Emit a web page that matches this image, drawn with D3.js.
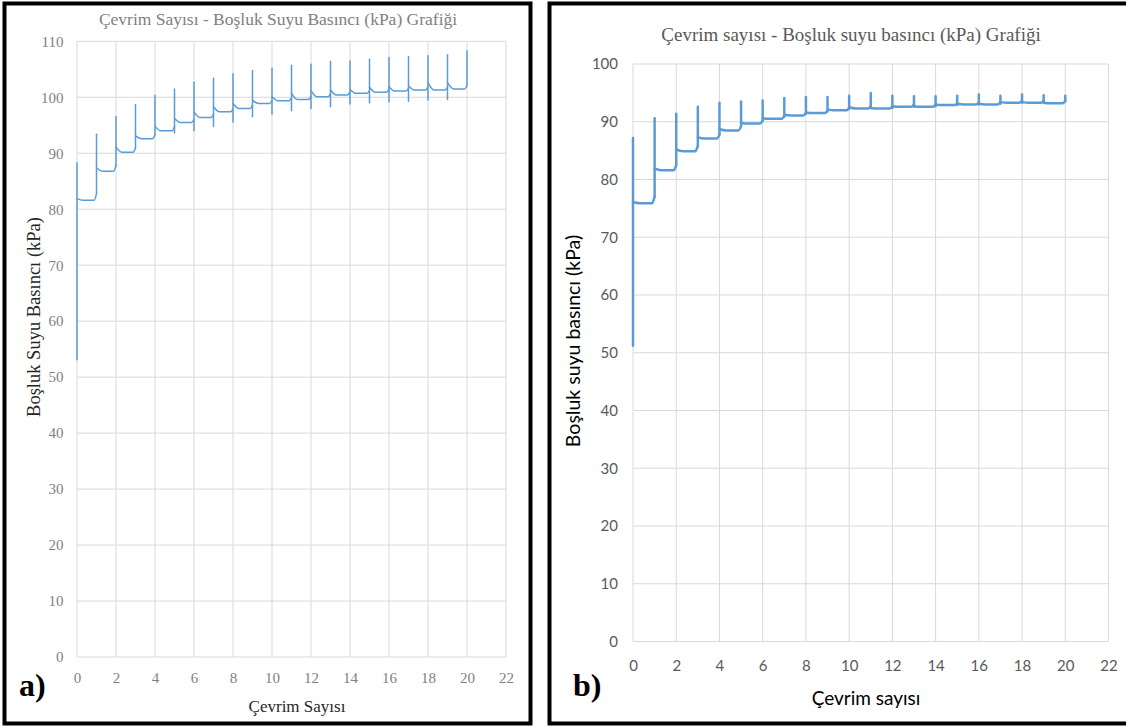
<!DOCTYPE html>
<html>
<head>
<meta charset="utf-8">
<script src="https://cdn.jsdelivr.net/npm/d3@7"></script>
<style>
  body { margin: 0; background: #fff; }
  svg { display: block; }
</style>
</head>
<body>
<svg id="chart" width="1126" height="726"></svg>
<script>
// ---- data ----
const cycleTicks = [0, 2, 4, 6, 8, 10, 12, 14, 16, 18, 20, 22];
const aKpaTicks = [0, 10, 20, 30, 40, 50, 60, 70, 80, 90, 100, 110];
const bKpaTicks = [0, 10, 20, 30, 40, 50, 60, 70, 80, 90, 100];

// a) vertical spike at every cycle 0..20: top and bottom (kPa)
const aPeak = [88.3, 93.4, 96.5, 98.7, 100.3, 101.5, 102.7, 103.4, 104.2, 104.8, 105.2,
  105.7, 105.9, 106.4, 106.5, 106.8, 107.1, 107.3, 107.4, 107.6, 108.3];
const aTrough = [53.1, 82.8, 87.8, 91.0, 93.3, 93.6, 94.0, 94.8, 95.6, 96.5, 97.0,
  97.6, 98.0, 98.3, 98.8, 99.0, 99.2, 99.3, 99.5, 99.6, 102.1];
// a) inside each cycle 0..19: value after spike, settled value, value before next spike
const aStart = [81.9, 87.4, 91.1, 93.1, 94.8, 96.2, 97.4, 98.3, 98.9, 99.5,
  100.1, 100.7, 101.2, 101.3, 101.4, 101.8, 101.9, 102.0, 102.6, 102.6];
const aBase = [81.6, 86.8, 90.2, 92.6, 94.0, 95.5, 96.4, 97.4, 98.0, 98.9,
  99.4, 99.6, 100.1, 100.4, 100.7, 100.9, 101.1, 101.3, 101.3, 101.5];
const aRise = [82.8, 87.8, 91.0, 93.3, 94.8, 96.0, 97.0, 97.9, 98.6, 99.4,
  99.9, 100.2, 100.6, 100.9, 101.2, 101.4, 101.6, 101.8, 101.8, 102.1];

// b) same readings for the second test
const bPeak = [87.2, 90.6, 91.4, 92.6, 93.3, 93.5, 93.7, 94.1, 94.3, 94.3, 94.5,
  95.0, 94.5, 94.4, 94.4, 94.5, 94.7, 94.5, 94.7, 94.6, 94.5];
const bTrough = [51.2, 77.0, 82.5, 85.8, 87.8, 89.2, 90.2, 90.9, 91.4, 91.8, 92.2,
  92.4, 92.4, 92.6, 92.7, 92.9, 93.0, 93.1, 93.3, 93.3, 93.6];
const bStart = [76.1, 81.9, 85.2, 87.3, 88.7, 89.8, 90.6, 91.2, 91.6, 92.1,
  92.5, 92.4, 92.7, 92.7, 93.0, 93.1, 93.1, 93.4, 93.4, 93.3];
const bBase = [75.9, 81.6, 84.9, 87.1, 88.5, 89.7, 90.5, 91.1, 91.5, 92.0,
  92.3, 92.3, 92.6, 92.6, 92.9, 93.0, 93.0, 93.3, 93.3, 93.2];
const bRise = [77.0, 82.5, 85.8, 87.8, 89.2, 90.2, 91.0, 91.5, 91.9, 92.4,
  92.7, 92.7, 93.0, 93.0, 93.2, 93.3, 93.4, 93.6, 93.6, 93.6];

// ---- layout ----
const LINE_COLOR = '#5b9bd5';
const GRID_COLOR = '#d9d9d9';
const SERIF = '"Liberation Serif", "Times New Roman", serif';
const SANS = 'Lato, "Open Sans", sans-serif';

const PANEL_A = {
  frame: { x: 4.5, y: 3.5, w: 526, h: 720 },
  xRange: [77, 506], yRange: [657, 41.3], yMax: 110, yTicks: aKpaTicks,
  lineWidth: 1.5,
  title: { text: 'Çevrim Sayısı - Boşluk Suyu Basıncı (kPa) Grafiği', x: 278, y: 25, size: 17.5, font: SERIF, color: '#7f7f7f' },
  tick: { font: SERIF, size: 15, color: '#7f7f7f', yPad: 13.5, xPad: 15 },
  xTitle: { text: 'Çevrim Sayısı', x: 297, y: 712, size: 17, font: SERIF, color: '#262626' },
  yTitle: { text: 'Boşluk Suyu Basıncı (kPa)', x: 40, y: 317, size: 18.5, font: SERIF, color: '#262626' },
  tag: { text: 'a)', x: 19, y: 696 },
  data: { peak: aPeak, trough: aTrough, start: aStart, base: aBase, rise: aRise }
};

const PANEL_B = {
  frame: { x: 549.5, y: 3.5, w: 600, h: 720 },
  xRange: [633, 1108.5], yRange: [641.5, 64], yMax: 100, yTicks: bKpaTicks,
  lineWidth: 2.5,
  title: { text: 'Çevrim sayısı - Boşluk suyu basıncı (kPa) Grafiği', x: 851, y: 41, size: 19, font: SERIF, color: '#595959' },
  tick: { font: SANS, size: 15, color: '#595959', yPad: 15, xPad: 19 },
  xTitle: { text: 'Çevrim sayısı', x: 866, y: 705, size: 19, font: SANS, color: '#000' },
  yTitle: { text: 'Boşluk suyu basıncı (kPa)', x: 580, y: 341, size: 19.5, font: SANS, color: '#000' },
  tag: { text: 'b)', x: 573, y: 696 },
  data: { peak: bPeak, trough: bTrough, start: bStart, base: bBase, rise: bRise }
};

const svg = d3.select('#chart');

const drawPanel = (p) => {
  const g = svg.append('g');

  const x = d3.scaleLinear().domain([0, 22]).range(p.xRange);
  const y = d3.scaleLinear().domain([0, p.yMax]).range(p.yRange);

  // gridlines
  g.append('g').selectAll('line.v')
    .data(cycleTicks)
    .join('line')
    .attr('x1', d => x(d)).attr('x2', d => x(d))
    .attr('y1', y(0)).attr('y2', y(p.yMax))
    .attr('stroke', GRID_COLOR).attr('stroke-width', 1);

  g.append('g').selectAll('line.h')
    .data(p.yTicks)
    .join('line')
    .attr('x1', x(0)).attr('x2', x(22))
    .attr('y1', d => y(d)).attr('y2', d => y(d))
    .attr('stroke', GRID_COLOR).attr('stroke-width', 1);

  // axes (labels only)
  const yAxis = g.append('g')
    .attr('transform', `translate(${x(0)},0)`)
    .call(d3.axisLeft(y).tickValues(p.yTicks).tickSize(0).tickPadding(p.tick.yPad).tickFormat(d3.format('d')));
  const xAxis = g.append('g')
    .attr('transform', `translate(0,${y(0)})`)
    .call(d3.axisBottom(x).tickValues(cycleTicks).tickSize(0).tickPadding(p.tick.xPad).tickFormat(d3.format('d')));

  [yAxis, xAxis].forEach(ax => {
    ax.select('.domain').remove();
    ax.attr('font-family', p.tick.font).attr('font-size', p.tick.size);
    ax.selectAll('text').attr('fill', p.tick.color);
  });

  // pore pressure trace: settling part of each cycle + the spike at each cycle
  const body = d3.line()
    .x(d => x(d[0]))
    .y(d => y(d[1]))
    .curve(d3.curveMonotoneX);

  const trace = g.append('g')
    .attr('fill', 'none')
    .attr('stroke', LINE_COLOR)
    .attr('stroke-width', p.lineWidth)
    .attr('stroke-linecap', 'round')
    .attr('stroke-linejoin', 'round');

  p.data.start.forEach((s, i) => {
    trace.append('path')
      .attr('d', body([[i, s], [i + 0.3, p.data.base[i]], [i + 0.88, p.data.base[i]], [i + 1, p.data.rise[i]]]));
  });

  trace.selectAll('line')
    .data(p.data.peak)
    .join('line')
    .attr('x1', (d, i) => x(i)).attr('x2', (d, i) => x(i))
    .attr('y1', (d, i) => y(p.data.trough[i]))
    .attr('y2', d => y(d));

  // texts
  const addText = (t, anchor) => g.append('text')
    .attr('x', t.x).attr('y', t.y)
    .attr('text-anchor', anchor)
    .attr('font-family', t.font)
    .attr('font-size', t.size)
    .attr('fill', t.color)
    .text(t.text);

  addText(p.title, 'middle');
  addText(p.xTitle, 'middle');

  g.append('text')
    .attr('transform', `translate(${p.yTitle.x},${p.yTitle.y}) rotate(-90)`)
    .attr('text-anchor', 'middle')
    .attr('font-family', p.yTitle.font)
    .attr('font-size', p.yTitle.size)
    .attr('fill', p.yTitle.color)
    .text(p.yTitle.text);

  g.append('text')
    .attr('x', p.tag.x).attr('y', p.tag.y)
    .attr('font-family', SERIF)
    .attr('font-weight', 'bold')
    .attr('font-size', 32)
    .attr('fill', '#000')
    .text(p.tag.text);

  // black frame around the panel
  g.append('rect')
    .attr('x', p.frame.x).attr('y', p.frame.y)
    .attr('width', p.frame.w).attr('height', p.frame.h)
    .attr('fill', 'none')
    .attr('stroke', '#000')
    .attr('stroke-width', 4);
};

drawPanel(PANEL_A);
drawPanel(PANEL_B);
</script>
</body>
</html>
